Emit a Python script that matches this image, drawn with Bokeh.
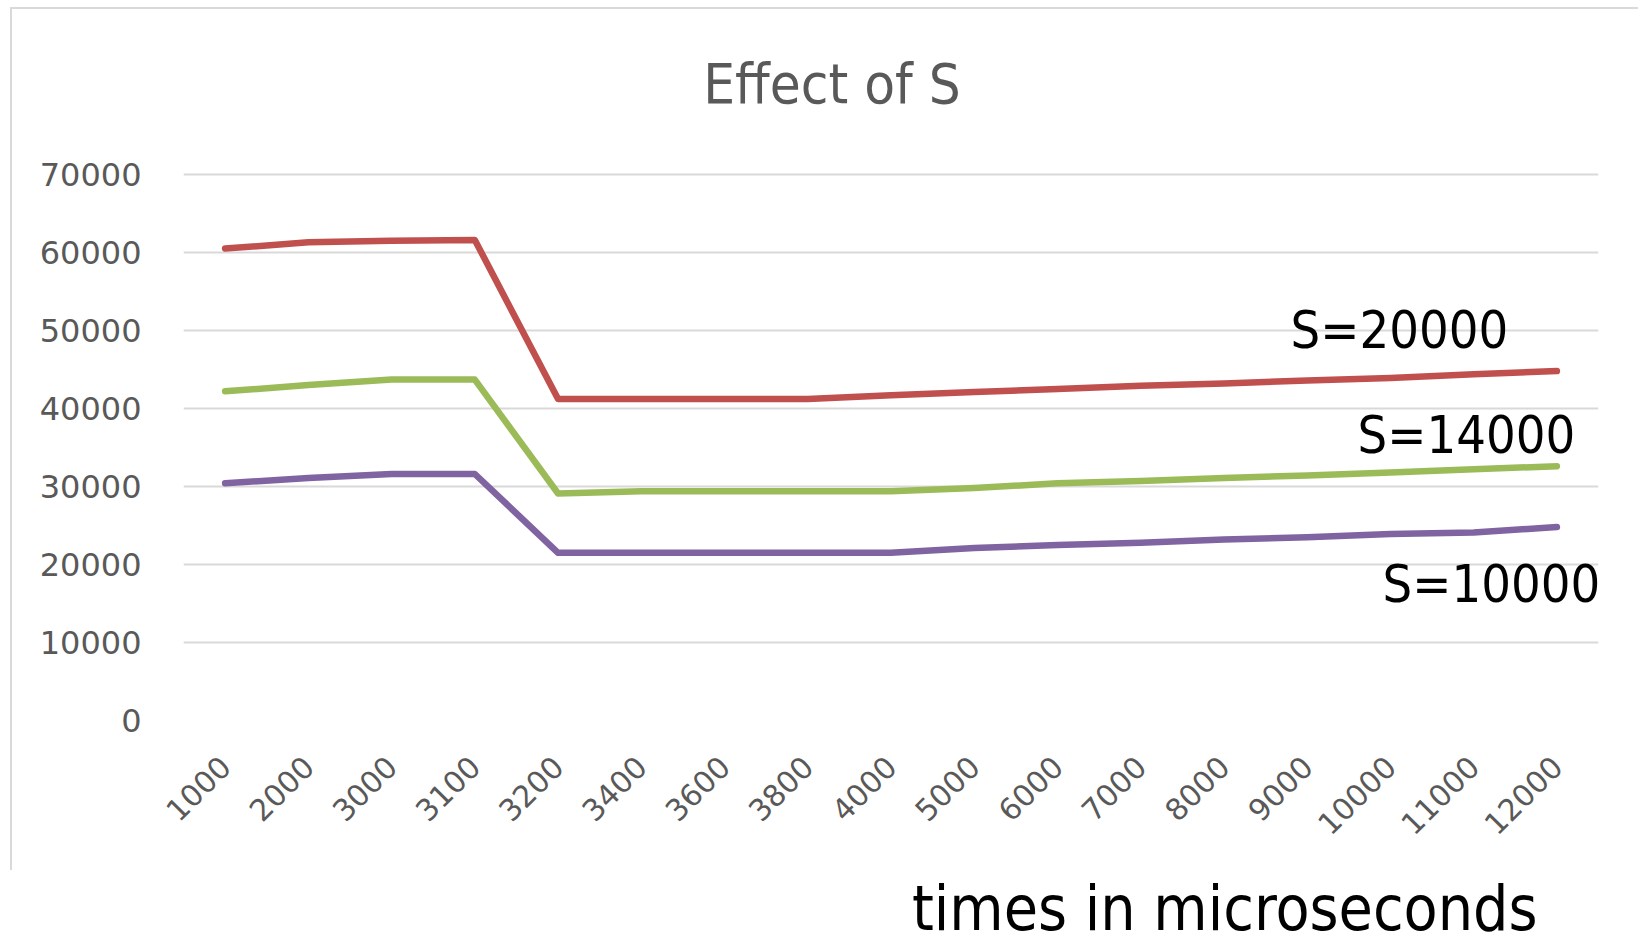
from bokeh.plotting import figure
from bokeh.models import Range1d, FactorRange, Label, Div, FixedTicker
from bokeh.layouts import column
from bokeh.embed import file_html
from bokeh.resources import INLINE
import math

# ---- data ----
times = ["1000", "2000", "3000", "3100", "3200", "3400", "3600", "3800", "4000",
         "5000", "6000", "7000", "8000", "9000", "10000", "11000", "12000"]
s20000 = [60500, 61300, 61500, 61600, 41200, 41200, 41200, 41200, 41700,
          42100, 42500, 42900, 43200, 43600, 43900, 44400, 44800]
s14000 = [42200, 43000, 43700, 43700, 29100, 29400, 29400, 29400, 29400,
          29800, 30400, 30700, 31100, 31400, 31800, 32200, 32600]
s10000 = [30400, 31100, 31600, 31600, 21500, 21500, 21500, 21500, 21500,
          22100, 22500, 22800, 23200, 23500, 23900, 24100, 24800]
series_labels = ["S=20000", "S=14000", "S=10000"]
y_ticks = [0, 10000, 20000, 30000, 40000, 50000, 60000, 70000]
chart_title = "Effect of S"
x_caption = "times in microseconds"

p = figure(width=1626, height=761, x_range=FactorRange(*times),
           y_range=Range1d(0, 70250), output_backend="svg",
           toolbar_location=None, min_border_left=171, min_border_right=40,
           min_border_top=63, min_border_bottom=150)
p.outline_line_color = None
p.background_fill_color = "white"
p.border_fill_color = "white"

colors = ["#C0504D", "#9BBB59", "#8064A2"]
for ys, c in zip([s20000, s14000, s10000], colors):
    p.line(times, ys, line_color=c, line_width=6.5, line_join="round", line_cap="round")

p.xgrid.grid_line_color = None
p.ygrid.grid_line_color = "#d9d9d9"
p.ygrid.grid_line_width = 2
p.yaxis.ticker = FixedTicker(ticks=y_ticks)

for ax in (p.xaxis[0], p.yaxis[0]):
    ax.axis_line_color = None
    ax.major_tick_line_color = None
    ax.minor_tick_line_color = None
    ax.major_label_text_font = "DejaVu Sans"
    ax.major_label_text_color = "#595959"
p.yaxis.major_label_text_font_size = "32px"
p.xaxis.major_label_text_font_size = "30px"
p.yaxis.major_label_standoff = 36
p.xaxis.major_label_orientation = math.pi / 4
p.xaxis.major_label_standoff = 35

label_pos = [(1107, 391), (1174, 286), (1199, 137)]
for txt, (lx, ly) in zip(series_labels, label_pos):
    p.add_layout(Label(x=lx, y=ly, x_units="screen", y_units="screen", text=txt,
                       text_font="DejaVu Sans Condensed", text_font_size="52px",
                       text_color="black", text_align="left", text_baseline="middle"))

title_div = Div(text='<div style="width:1640px;text-align:center;'
                     'font-family:\'DejaVu Sans Condensed\';font-size:56px;line-height:40px;'
                     'color:#595959;margin-top:55px;white-space:nowrap;">'
                     + chart_title + '</div>',
                width=1626, height=100, margin=0)

inner = column(title_div, p, spacing=0)
inner.margin = (7, 0, 0, 10)
inner.styles = {"border-top": "2px solid #d9d9d9", "border-left": "2px solid #d9d9d9"}

caption_div = Div(text='<div style="font-family:\'DejaVu Sans Condensed\';font-size:62px;'
                       'color:black;line-height:56px;margin-left:912px;margin-top:11px;'
                       'white-space:nowrap;">' + x_caption + '</div>',
                  width=1630, height=68, margin=0)

layout = column(inner, caption_div, spacing=0)
open("out.html", "w").write(file_html(layout, INLINE))
